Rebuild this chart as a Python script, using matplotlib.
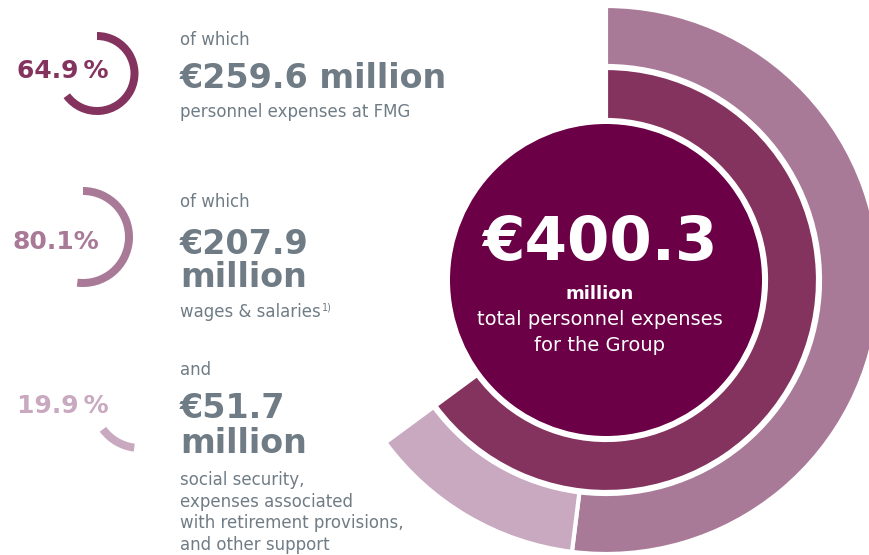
import matplotlib
matplotlib.use("Agg")
import matplotlib.pyplot as plt
from matplotlib.patches import Wedge, Circle

# personnel expenses, € million
total = 400.3
fmg_amount = 259.6
wage_amount = 207.9
social_amount = 51.7

# shares in percent (FMG of group, wages / social of FMG)
fmg_share = 64.9
wage_share = 80.1
social_share = 19.9

c_core = "#6B0046"
c_fmg = "#84335F"
c_wage = "#A97A97"
c_social = "#C9A9C0"
c_text = "#707C85"

W, H = 869, 555
fig = plt.figure(figsize=(W / 100, H / 100), dpi=100)
ax = fig.add_axes([0, 0, 1, 1])
ax.set_xlim(0, W)
ax.set_ylim(H, 0)
ax.set_aspect("equal")
ax.axis("off")

# angles measured clockwise from 12 o'clock (y axis is flipped, so theta = a - 90)
fmg_angle = 360 * fmg_share / 100
wage_angle = fmg_angle * wage_share / 100
social_angle = fmg_angle * social_share / 100


def arc(center, r, a0, a1, width, color, **kw):
    w = Wedge(center, r, a0 - 90, a1 - 90, width=width, facecolor=color, **kw)
    ax.add_patch(w)
    return w


# big chart
cx, cy = 606, 280
ax.add_patch(Circle((cx, cy), 156, facecolor=c_core, edgecolor="none"))
edge = dict(edgecolor="white", linewidth=3)
arc((cx, cy), 212, 0, fmg_angle, 52, c_fmg, **edge)
arc((cx, cy), 274, 0, wage_angle, 60, c_wage, **edge)
arc((cx, cy), 274, wage_angle, wage_angle + social_angle, 60, c_social, **edge)

ax.text(600, 260, f"€{total:.1f}", color="white", fontsize=44, fontweight="bold",
        ha="center", va="baseline")
ax.text(600, 299, "million", color="white", fontsize=13, fontweight="bold",
        ha="center", va="baseline")
ax.text(600, 325, "total personnel expenses", color="white", fontsize=14,
        ha="center", va="baseline")
ax.text(600, 351, "for the Group", color="white", fontsize=14,
        ha="center", va="baseline")

# small arc icons with percentages
arc((97, 73.5), 41.5, 0, fmg_angle, 8, c_fmg)
arc((83, 237), 50, 0, wage_angle, 8, c_wage)
arc((140, 402), 50, wage_angle, wage_angle + social_angle, 8, c_social)

pct_kw = dict(fontsize=18, fontweight="bold", ha="left", va="baseline")
ax.text(17, 78, f"{fmg_share}\u2009%", color=c_fmg, **pct_kw)
ax.text(13, 249, f"{wage_share}%", color=c_wage, **pct_kw)
ax.text(17, 413, f"{social_share}\u2009%", color=c_social, **pct_kw)

# text blocks
x0 = 180
small = dict(color=c_text, fontsize=12, ha="left", va="baseline")
big = dict(color=c_text, fontsize=24, fontweight="bold", ha="left", va="baseline")

ax.text(x0, 45, "of which", **small)
ax.text(x0, 88, f"€{fmg_amount:.1f} million", **big)
ax.text(x0, 117, "personnel expenses at FMG", **small)

ax.text(x0, 207, "of which", **small)
ax.text(x0, 254, f"€{wage_amount:.1f}", **big)
ax.text(x0, 287, "million", **big)
ax.text(x0, 317, "wages & salaries", **small)
ax.text(322, 310, "1)", color=c_text, fontsize=7, ha="left", va="baseline")

ax.text(x0, 375, "and", **small)
ax.text(x0, 418, f"€{social_amount:.1f}", **big)
ax.text(x0, 453, "million", **big)
for i, line in enumerate(["social security,", "expenses associated",
                          "with retirement provisions,", "and other support"]):
    ax.text(x0, 485 + i * 21.7, line, **small)

fig.savefig("out.png", dpi=100)
